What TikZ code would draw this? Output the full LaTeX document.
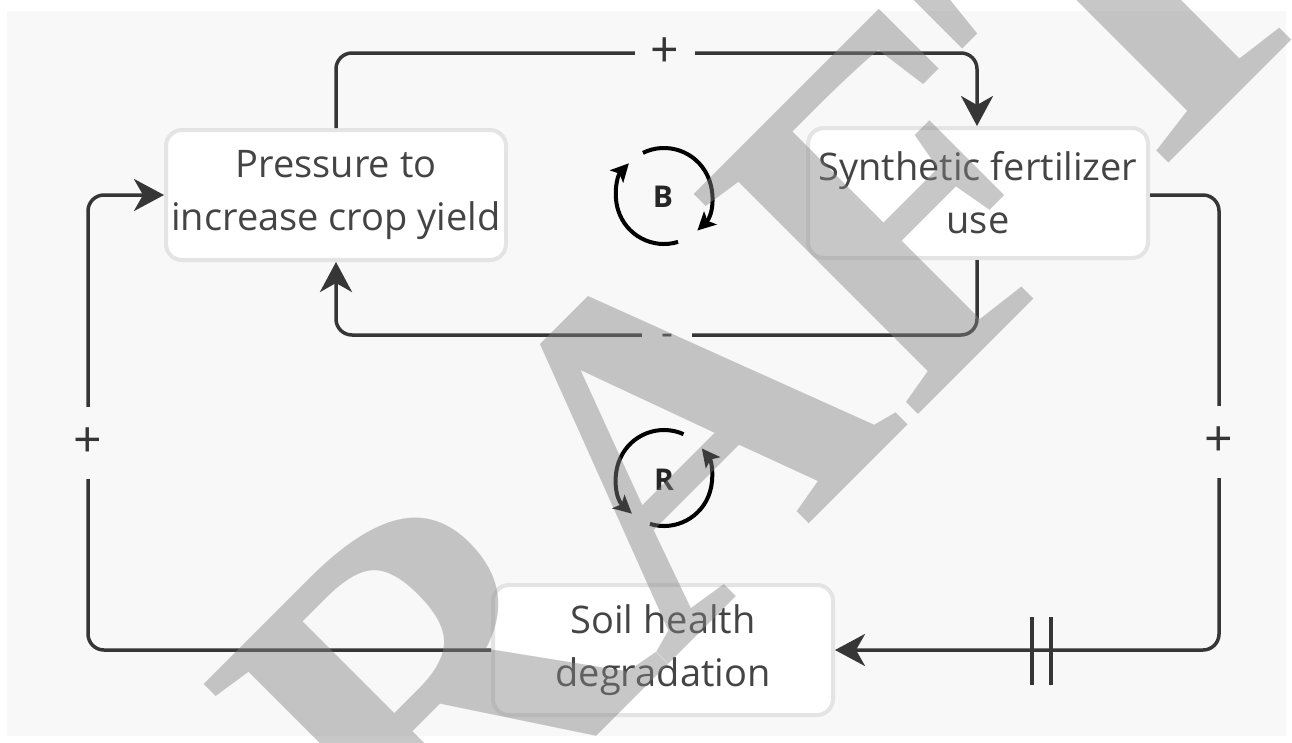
\documentclass[tikz,border=0pt]{standalone}
\usepackage{fontspec}
\setmainfont{Open Sans}
\newfontfamily\wmfont{Liberation Serif}
\usetikzlibrary{arrows.meta,shapes.misc}
\definecolor{bgc}{HTML}{F8F8F8}
\definecolor{linec}{HTML}{363636}
\definecolor{txtc}{HTML}{444444}
\definecolor{boxb}{HTML}{E4E4E4}
\definecolor{wmc}{HTML}{848484}
\tikzset{
  varbox/.style={draw=boxb, line width=4pt, fill=white, rounded corners=16pt,
    minimum width=340pt, minimum height=130pt, align=center, text=txtc,
    font=\fontsize{38}{53}\selectfont, inner sep=0pt},
  link/.style={draw=linec, line width=3.5pt, rounded corners=16pt,
    -{Stealth[length=30pt,width=32pt,inset=9pt]}},
  pol/.style={fill=bgc, text=linec, font=\fontsize{50}{50}\selectfont, inner sep=0pt,
    minimum width=60pt, minimum height=72pt},
  loopar/.style={draw=black, line width=4pt, -{Stealth[length=18pt,width=18pt,inset=4pt]}},
  looplab/.style={font=\bfseries\fontsize{30}{30}\selectfont, text=black!85}
}
\begin{document}
\begin{tikzpicture}[x=1pt,y=-1pt]
\useasboundingbox (0,0) rectangle (1292,742);
\fill[white] (0,0) rectangle (1292,742);
\fill[bgc] (7,11) rectangle (1286,736);

\node[varbox] (P) at (336,195) {Pressure to\\increase crop yield};
\node[varbox] (S) at (978,193) {Synthetic fertilizer\\use};
\node[varbox] (D) at (663,650) {Soil health\\degradation};

% P -> S (+)
\coordinate (c1) at (336,53);
\coordinate (c2) at (977,53);
\draw[link] (P.north) -- (c1) -- (c2) -- (S.north -| c2);
\node[pol] (l1) at (665,53) {+};
% S -> P (-)
\coordinate (c3) at (977,335);
\coordinate (c4) at (336,335);
\draw[link] (S.south -| c3) -- (c3) -- (c4) -- (P.south);
\node[pol, minimum width=50pt] (l2) at (667,335) {};
\node[text=linec, font=\fontsize{37}{37}\selectfont, inner sep=0pt] (l2t) at (667,340) {-};
% S -> D (+)
\coordinate (c5) at (1219,195);
\coordinate (c6) at (1219,650);
\draw[link] (S.east |- c5) -- (c5) -- (c6) -- (D.east);
\node[pol] (l3) at (1219,442) {+};
\coordinate (d1) at (1032,617);
\coordinate (d2) at (1032,685);
\coordinate (d3) at (1051,617);
\coordinate (d4) at (1051,685);
\draw[linec, line width=4pt] (d1) -- (d2) (d3) -- (d4);
% D -> P (+)
\coordinate (c7) at (88,650);
\coordinate (c8) at (88,195);
\draw[link] (D.west) -- (c7) -- (c8) -- (P.west |- c8);
\node[pol] (l4) at (88,443) {+};

% loop B
\coordinate (B) at (664,196);
\draw[loopar] (B) ++(73:48) arc[start angle=73, end angle=223, radius=48];
\draw[loopar] (B) ++(-116:48) arc[start angle=-116, end angle=46, radius=48];
\node[looplab] (Bl) at (663,197) {B};
% loop R
\coordinate (R) at (664,478);
\draw[loopar] (R) ++(-66:48) arc[start angle=-66, end angle=-228, radius=48];
\draw[loopar] (R) ++(107:48) arc[start angle=107, end angle=-38, radius=48];
\node[looplab] (Rl) at (664,480) {R};

% watermark
\node[font=\wmfont\bfseries\fontsize{480}{480}\selectfont, text=wmc, opacity=0.45,
  rotate=45, inner sep=0pt] (wm) at (648,461) {\phantom{D}RAFT};
\end{tikzpicture}
\end{document}
